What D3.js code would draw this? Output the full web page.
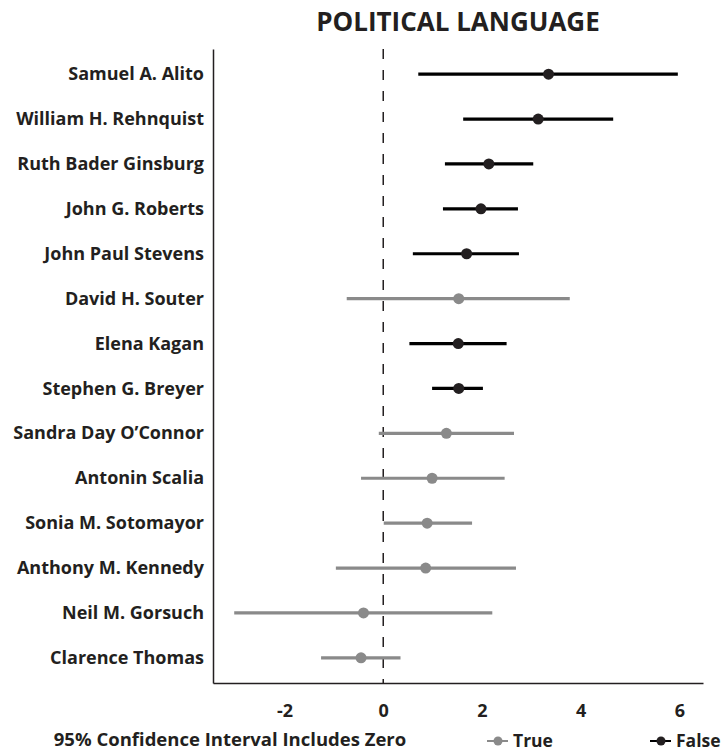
<!DOCTYPE html>
<html>
<head>
<meta charset="utf-8">
<script src="https://cdn.jsdelivr.net/npm/d3@7"></script>
<style>
  body { margin: 0; background: #fff; }
  svg text { font-family: "Open Sans", sans-serif; font-weight: 700; fill: #231f20; }
</style>
</head>
<body>
<div id="chart"></div>
<script>
// judges, top to bottom
const judges = [
    "Samuel A. Alito", "William H. Rehnquist", "Ruth Bader Ginsburg", "John G. Roberts",
    "John Paul Stevens", "David H. Souter", "Elena Kagan", "Stephen G. Breyer",
    "Sandra Day O\u2019Connor", "Antonin Scalia", "Sonia M. Sotomayor", "Anthony M. Kennedy",
    "Neil M. Gorsuch", "Clarence Thomas"
];
const estimates = [3.35, 3.14, 2.14, 1.98, 1.69, 1.53, 1.52, 1.53, 1.28, 0.99, 0.89, 0.86, -0.40, -0.45];
const lower = [0.71, 1.62, 1.25, 1.21, 0.60, -0.74, 0.53, 0.99, -0.09, -0.45, 0.01, -0.96, -3.02, -1.26];
const upper = [5.97, 4.66, 3.04, 2.73, 2.75, 3.78, 2.50, 2.02, 2.65, 2.46, 1.80, 2.69, 2.21, 0.35];
const includes_zero = [false, false, false, false, false, true, false, false, true, true, true, true, true, true];
const x_ticks = [-2, 0, 2, 4, 6];
const legend_items = [
    { label: "True", value: true },
    { label: "False", value: false }
];

const w = 728;
const h = 753;
const plot = { left: 213, right: 703, top: 49, bottom: 683 };

const col_line = v => v ? "#8a8a8a" : "#000";
const col_dot = v => v ? "#8a8a8a" : "#231f20";

const rows = judges.map((name, i) => ({
    name,
    est: estimates[i],
    lo: lower[i],
    hi: upper[i],
    zero: includes_zero[i]
}));

const svg = d3.select("#chart").append("svg")
    .attr("width", w)
    .attr("height", h);

const x = d3.scaleLinear().domain([-3.45, 6.48]).range([plot.left, plot.right]);
const y = d3.scalePoint().domain(judges).range([plot.top, plot.bottom]).padding(0.56);

// title
svg.append("text")
    .attr("x", (plot.left + plot.right) / 2)
    .attr("y", 31)
    .attr("text-anchor", "middle")
    .style("font-size", "26px")
    .text("POLITICAL LANGUAGE");

// zero reference line
svg.append("line")
    .attr("x1", x(0)).attr("x2", x(0))
    .attr("y1", plot.top).attr("y2", plot.bottom)
    .attr("stroke", "#231f20")
    .attr("stroke-width", 1.5)
    .attr("stroke-dasharray", "10,11");

// axes
const x_axis = svg.append("g")
    .attr("transform", `translate(0,${plot.bottom})`)
    .call(d3.axisBottom(x).tickValues(x_ticks).tickSize(0).tickPadding(21).tickFormat(d => String(d)));
x_axis.select(".domain").attr("stroke", "#231f20").attr("stroke-width", 1.5);
x_axis.selectAll("text").style("font-size", "18px").attr("fill", "#231f20");

const y_axis = svg.append("g")
    .attr("transform", `translate(${plot.left},0)`)
    .call(d3.axisLeft(y).tickSize(0).tickPadding(9));
y_axis.select(".domain").attr("stroke", "#231f20").attr("stroke-width", 1.5);
y_axis.selectAll("text")
    .style("font-size", "18px")
    .attr("dy", "0.31em")
    .attr("fill", "#231f20");

// confidence intervals
svg.append("g").selectAll("line")
    .data(rows)
    .join("line")
    .attr("x1", d => x(d.lo))
    .attr("x2", d => x(d.hi))
    .attr("y1", d => y(d.name))
    .attr("y2", d => y(d.name))
    .attr("stroke", d => col_line(d.zero))
    .attr("stroke-width", 3.2);

svg.append("g").selectAll("circle")
    .data(rows)
    .join("circle")
    .attr("cx", d => x(d.est))
    .attr("cy", d => y(d.name))
    .attr("r", 5.5)
    .attr("fill", d => col_dot(d.zero));

// legend
const legend_y = 741;
svg.append("text")
    .attr("x", 230)
    .attr("y", legend_y + 5)
    .attr("text-anchor", "middle")
    .style("font-size", "18.5px")
    .text("95% Confidence Interval Includes Zero");

const legend_x = [487, 650];
const legend = svg.append("g").selectAll("g")
    .data(legend_items)
    .join("g")
    .attr("transform", (d, i) => `translate(${legend_x[i]},${legend_y})`);

legend.append("line")
    .attr("x1", 0).attr("x2", 21)
    .attr("stroke", d => col_line(d.value))
    .attr("stroke-width", 2);

legend.append("circle")
    .attr("cx", 11)
    .attr("r", 4.5)
    .attr("fill", d => col_dot(d.value));

legend.append("text")
    .attr("x", 26)
    .attr("y", 6)
    .style("font-size", "17.5px")
    .text(d => d.label);
</script>
</body>
</html>
